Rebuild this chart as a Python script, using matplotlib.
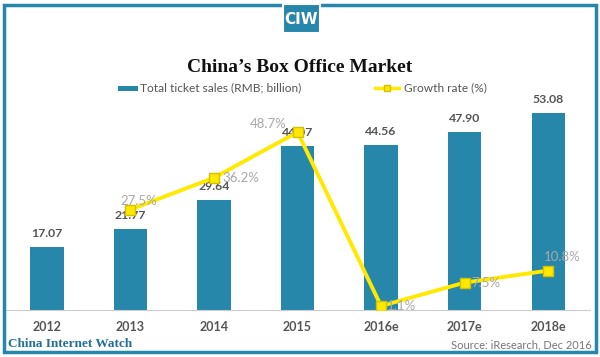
import matplotlib.pyplot as plt
from matplotlib.patches import Rectangle

# --- DATA ---
years = ["2012", "2013", "2014", "2015", "2016e", "2017e", "2018e"]
sales = [17.07, 21.77, 29.64, 44.07, 44.56, 47.90, 53.08]
growth_years = ["2013", "2014", "2015", "2016e", "2017e", "2018e"]
growth = [27.5, 36.2, 48.7, 1.1, 7.5, 10.8]

BLUE = "#2787ab"
YELLOW = "#ffe900"
DARK = "#555555"
LIGHT = "#a8a8a8"

plt.rcParams['font.family'] = ['Lato', 'DejaVu Sans']

fig = plt.figure(figsize=(6, 3.57), dpi=100)
W, H = 600, 357

def px(x0, y0, x1, y1):
    # pixel box (top-left origin) -> figure fraction
    return [x0 / W, 1 - y1 / H, (x1 - x0) / W, (y1 - y0) / H]

# outer frame
fig.patches.append(Rectangle((4 / W, 5 / H), 592 / W, 347 / H, transform=fig.transFigure,
                             fill=False, edgecolor=BLUE, linewidth=2.5))
# logo
fig.patches.append(Rectangle((283 / W, 1 - 33 / H), 37 / W, 29 / H, transform=fig.transFigure,
                             facecolor=BLUE, edgecolor="white", linewidth=1.5))
fig.text(301.5 / W, 1 - 19 / H, "CIW", color="white", fontsize=11, fontweight="bold",
         ha="center", va="center", family="Liberation Sans Narrow")

fig.text(0.5, 1 - 68 / H, "China\u2019s Box Office Market", ha="center", va="center",
         fontsize=14, fontweight="bold", family="Liberation Serif", color="#111111")

ax = fig.add_axes(px(5, 100, 590, 310))
x = list(range(len(years)))
ax.bar(x, sales, width=0.4, color=BLUE)
for xi, v in zip(x, sales):
    ax.text(xi, v + 2.2, f"{v:.2f}", ha="center", va="bottom", fontsize=8.8,
            fontweight="bold", color=DARK)
ax.set_xlim(-0.5, len(years) - 0.5)
ax.set_ylim(0, 56.6)
ax.set_yticks([])
ax.set_xticks(x)
ax.set_xticklabels(years, fontsize=9, fontweight="bold", color=DARK)
ax.tick_params(axis="x", length=0, pad=8)
for s in ["top", "left", "right"]:
    ax.spines[s].set_visible(False)
ax.spines["bottom"].set_color("#cccccc")

ax2 = ax.twinx()
gx = [years.index(y) for y in growth_years]
ax2.plot(gx, growth, color=YELLOW, linewidth=2.8, marker="s", markersize=6.5,
         markerfacecolor=YELLOW, markeredgecolor="#d4c000", zorder=3)
ax2.set_ylim(0, 57.5)
ax2.set_yticks([])
for s in ["top", "left", "right", "bottom"]:
    ax2.spines[s].set_visible(False)

offsets = [(6, 6), (19, 0), (-21, 6), (15, 0), (15, 0), (10, 10)]
for xi, g, (dx, dy) in zip(gx, growth, offsets):
    ax2.annotate(f"{g}%", (xi, g), xytext=(dx, dy), textcoords="offset points",
                 ha="center", va="center", fontsize=9.5, color=LIGHT)

# legend
fig.patches.append(Rectangle((118 / W, 1 - 91 / H), 20 / W, 5 / H, transform=fig.transFigure,
                             facecolor=BLUE, edgecolor="none"))
fig.text(140 / W, 1 - 88 / H, "Total ticket sales (RMB; billion)", fontsize=8.6,
         color=DARK, va="center")
fig.lines.append(plt.Line2D([375 / W, 387 / W, 399 / W], [1 - 88 / H] * 3,
                            transform=fig.transFigure, color=YELLOW, linewidth=2.5,
                            marker="s", markersize=5, markevery=[1], markerfacecolor=YELLOW,
                            markeredgecolor="#d4c000"))
fig.text(404 / W, 1 - 88 / H, "Growth rate (%)", fontsize=8.6, color=DARK, va="center")

# footer
fig.text(8 / W, 1 - 344 / H, "China Internet Watch", fontsize=9.5, fontweight="bold",
         family="Liberation Serif", color="#1f6f96", va="center")
fig.text(592 / W, 1 - 345 / H, "Source: iResearch, Dec 2016", fontsize=8,
         color="#777777", ha="right", va="center")

fig.savefig("out.png", dpi=100)
